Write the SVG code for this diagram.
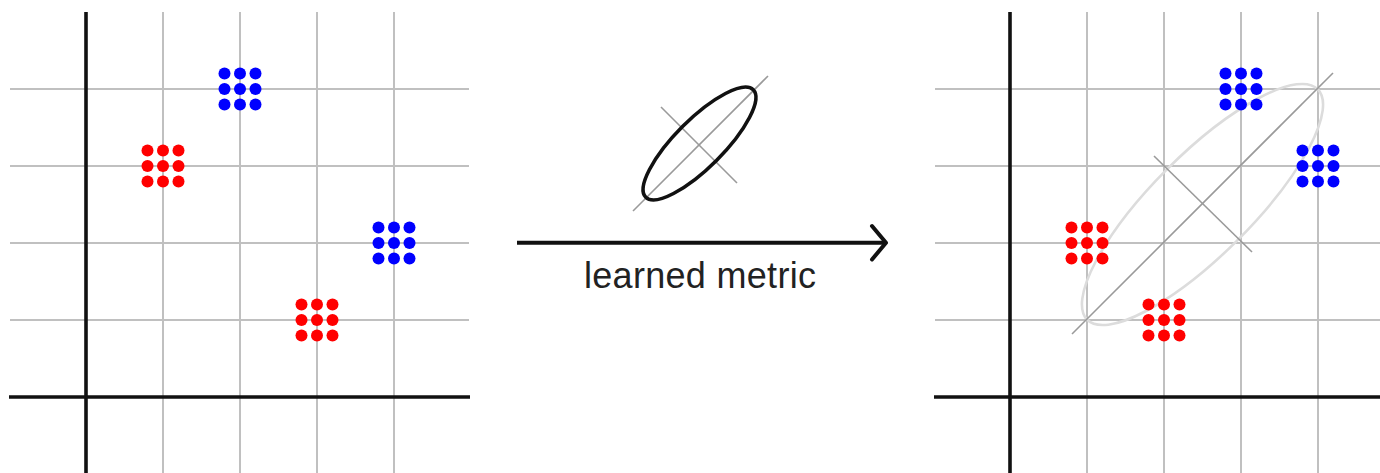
<svg xmlns="http://www.w3.org/2000/svg" width="1380" height="473" viewBox="0 0 1380 473">
<defs>
<style>
.grid{stroke:#c0c0c0;stroke-width:2;fill:none}
.axis{stroke:#111;stroke-width:3.6;fill:none}
.guide{stroke:#9a9a9a;stroke-width:1.6;fill:none}
.red{fill:#ff0000}
.blue{fill:#0000ff}
.lbl{font-family:"Liberation Sans",Arial,sans-serif;font-size:36px;fill:#222}
</style>
<g id="c9">
<circle cx="-15.5" cy="-15.5" r="6"/><circle cx="0" cy="-15.5" r="6"/><circle cx="15.5" cy="-15.5" r="6"/>
<circle cx="-15.5" cy="0" r="6"/><circle cx="0" cy="0" r="6"/><circle cx="15.5" cy="0" r="6"/>
<circle cx="-15.5" cy="15.5" r="6"/><circle cx="0" cy="15.5" r="6"/><circle cx="15.5" cy="15.5" r="6"/>
</g>
</defs>
<rect width="1380" height="473" fill="#fff"/>

<g id="left-panel">
<g class="grid">
<line x1="163" y1="12" x2="163" y2="473"/>
<line x1="240" y1="12" x2="240" y2="473"/>
<line x1="317" y1="12" x2="317" y2="473"/>
<line x1="394" y1="12" x2="394" y2="473"/>
<line x1="10" y1="89" x2="469" y2="89"/>
<line x1="10" y1="166" x2="469" y2="166"/>
<line x1="10" y1="243" x2="469" y2="243"/>
<line x1="10" y1="320" x2="469" y2="320"/>
</g>
<g class="axis">
<line x1="86" y1="12" x2="86" y2="473"/>
<line x1="9" y1="397" x2="470" y2="397"/>
</g>
</g>
<g id="left-red-1" class="red"><use href="#c9" x="163" y="166"/></g>
<g id="left-blue-1" class="blue"><use href="#c9" x="240" y="89"/></g>
<g id="left-blue-2" class="blue"><use href="#c9" x="394" y="243"/></g>
<g id="left-red-2" class="red"><use href="#c9" x="317" y="320"/></g>

<g id="metric-icon">
<line class="guide" x1="633" y1="211" x2="768" y2="76"/>
<line class="guide" x1="661" y1="107" x2="737" y2="183"/>
<ellipse cx="699.5" cy="143.5" rx="76" ry="24" transform="rotate(-45 699.5 143.5)" fill="none" stroke="#111" stroke-width="3.6"/>
</g>

<g id="connectors">
<line x1="517" y1="242.7" x2="885" y2="242.7" stroke="#111" stroke-width="4"/>
<polyline points="872,226 886,242.7 872,259.5" fill="none" stroke="#111" stroke-width="4" stroke-linecap="round" stroke-linejoin="round"/>
<text class="lbl" x="700" y="288" text-anchor="middle" textLength="232" lengthAdjust="spacing">learned metric</text>
</g>

<g id="right-panel">
<g class="grid">
<line x1="1087" y1="12" x2="1087" y2="473"/>
<line x1="1164" y1="12" x2="1164" y2="473"/>
<line x1="1241" y1="12" x2="1241" y2="473"/>
<line x1="1318" y1="12" x2="1318" y2="473"/>
<line x1="935" y1="89" x2="1380" y2="89"/>
<line x1="935" y1="166" x2="1380" y2="166"/>
<line x1="935" y1="243" x2="1380" y2="243"/>
<line x1="935" y1="320" x2="1380" y2="320"/>
</g>
<g class="axis">
<line x1="1010" y1="12" x2="1010" y2="473"/>
<line x1="934" y1="397" x2="1380" y2="397"/>
</g>
<ellipse cx="1202.5" cy="204.5" rx="163" ry="50" transform="rotate(-45 1202.5 204.5)" fill="none" stroke="#dcdcdc" stroke-width="2.6"/>
<line class="guide" x1="1072" y1="334" x2="1333" y2="73"/>
<line class="guide" x1="1154" y1="156" x2="1252" y2="252"/>
</g>
<g id="right-blue-1" class="blue"><use href="#c9" x="1241" y="89"/></g>
<g id="right-blue-2" class="blue"><use href="#c9" x="1318" y="166"/></g>
<g id="right-red-1" class="red"><use href="#c9" x="1087" y="243"/></g>
<g id="right-red-2" class="red"><use href="#c9" x="1164" y="320"/></g>
</svg>
